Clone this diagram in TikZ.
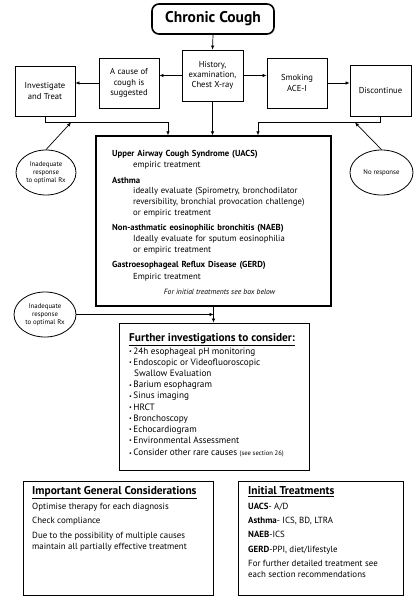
\documentclass[tikz,border=0pt]{standalone}
\usepackage{fontspec}
\setmainfont{PT Sans}
\usetikzlibrary{arrows.meta,shapes.geometric}
\tikzset{
  box/.style={draw, line width=0.8pt, align=center, inner sep=1pt, font=\fontsize{8.6}{10.2}\selectfont},
  arr/.style={-{Latex[length=4pt,width=3.6pt]}, line width=0.7pt},
  oval/.style={ellipse, draw, line width=0.8pt, align=center, inner sep=0pt, font=\fontsize{6.8}{8}\selectfont},
  txt/.style={align=left, inner sep=0pt, anchor=north west},
}
\newcommand{\ind}{\hspace*{21pt}}
\newcommand{\bul}{{\fontsize{6}{6}\selectfont\raisebox{0.8pt}{\textbullet}}\,}
\begin{document}
\begin{tikzpicture}[x=1pt,y=-1pt]
\useasboundingbox (0,0) rectangle (417,600);
% top boxes
\node[draw, rounded corners=7pt, line width=1.6pt, minimum width=122pt, minimum height=30pt,
      font=\fontsize{15.5}{17}\selectfont\bfseries] (chronic) at (213,19) {Chronic Cough};
\node[box, minimum width=61pt, minimum height=51pt] (hist) at (212.5,75.5) {History,\\examination,\\Chest X-ray};
\node[box, minimum width=60pt, minimum height=50pt] (cause) at (129,83) {A cause of\\cough is\\suggested};
\node[box, minimum width=60pt, minimum height=50pt] (inv) at (45,91) {Investigate\\and Treat};
\node[box, minimum width=60pt, minimum height=50pt] (smoke) at (297,83) {Smoking\\ACE-I};
\node[box, minimum width=61pt, minimum height=51pt] (disc) at (380.5,90.5) {Discontinue};
% main box
\node[draw, line width=1.5pt, minimum width=235pt, minimum height=170pt] (main) at (213.5,221) {};
\node[txt, text width=210pt, font=\fontsize{8.7}{10.7}\selectfont] (maintext) at (112,150)
{\textbf{Upper Airway Cough Syndrome (UACS)}\\
\ind empiric treatment\\[5.3pt]
\textbf{Asthma}\\
\ind ideally evaluate (Spirometry, bronchodilator\\
\ind reversibility, bronchial provocation challenge)\\
\ind or empiric treatment\\[5pt]
\textbf{Non-asthmatic eosinophilic bronchitis (NAEB)}\\
\ind Ideally evaluate for sputum eosinophilia\\
\ind or empiric treatment\\[4.5pt]
\textbf{Gastroesophageal Reflux Disease (GERD)}\\[1.3pt]
\ind Empiric treatment};
\node[inner sep=0pt, font=\fontsize{7.6}{8}\selectfont\itshape] (note) at (219.5,292) {For initial treatments see box below};
% ovals
\node[oval, minimum width=60pt, minimum height=45pt] (e1) at (46,172.5) {Inadequate\\response\\to optimal Rx};
\node[oval, minimum width=63pt, minimum height=45pt] (e2) at (381.5,172.5) {No response};
\node[oval, minimum width=62pt, minimum height=45pt] (e3) at (45,314.5) {Inadequate\\response\\to optimal Rx};
% further box
\node[draw, line width=0.9pt, minimum width=190pt, minimum height=147pt] (further) at (214,396.5) {};
\node[txt, font=\fontsize{9.2}{11.1}\selectfont] (furthertext) at (129,333)
{{\fontsize{11.3}{11}\selectfont\bfseries\underline{Further investigations to consider:}}\\[2.2pt]
\bul 24h esophageal pH monitoring\\
\bul Endoscopic or Videofluoroscopic\\
\hspace*{5pt}Swallow Evaluation\\
\bul Barium esophagram\\
\bul Sinus imaging\\
\bul HRCT\\
\bul Bronchoscopy\\
\bul Echocardiogram\\
\bul Environmental Assessment\\[1.5pt]
\bul Consider other rare causes {\fontsize{6.6}{7}\selectfont(see section 26)}};
% bottom boxes
\node[draw, line width=1pt, minimum width=190pt, minimum height=114pt] (gen) at (118,538) {};
\node[txt, font=\fontsize{8.9}{11}\selectfont] (gentext) at (32,486.6)
{{\fontsize{11.4}{11}\selectfont\bfseries\underline{Important General Considerations}}\\[3.3pt]
Optimise therapy for each diagnosis\\[3.5pt]
Check compliance\\[3.8pt]
Due to the possibility of multiple causes\\
maintain all partially effective treatment};
\node[draw, line width=1pt, minimum width=165pt, minimum height=114pt] (init) at (320.5,538) {};
\node[txt, font=\fontsize{8.9}{11}\selectfont] (inittext) at (248,486.6)
{{\fontsize{11.4}{11}\selectfont\bfseries\underline{Initial Treatments}}\\[3.3pt]
\textbf{UACS}- A/D\\[3.3pt]
\textbf{Asthma}- ICS, BD, LTRA\\[3.3pt]
\textbf{NAEB}-ICS\\[3.3pt]
\textbf{GERD}-PPI, diet/lifestyle\\[3.3pt]
For further detailed treatment see\\
each section recommendations};
% junction coordinates
\coordinate (j1) at (168,122);
\coordinate (j2) at (258,122);
\coordinate (t1) at (71,122.5);
\coordinate (t2) at (355,122.5);
% connectors
\draw[arr] (chronic.south) -- (hist.north);
\draw[arr] (hist.west) -- (hist.west -| cause.east);
\draw[arr] (cause.west) -- (cause.west -| inv.east);
\draw[arr] (hist.east) -- (hist.east -| smoke.west);
\draw[arr] (smoke.east) -- (smoke.east -| disc.west);
\draw[arr] (inv.south) |- (j1) -- (j1 |- main.north);
\draw[arr] (disc.south) |- (j2) -- (j2 |- main.north);
\draw[arr] (hist.south) -- (hist.south |- main.north);
\draw[arr] (e1.north) -- (t1);
\draw[arr] (e2.north) -- (t2);
\draw[arr] (e3.east) -- (e3.east -| main.south);
\draw[arr] (main.south) -- (main.south |- further.north);
\end{tikzpicture}
\end{document}
